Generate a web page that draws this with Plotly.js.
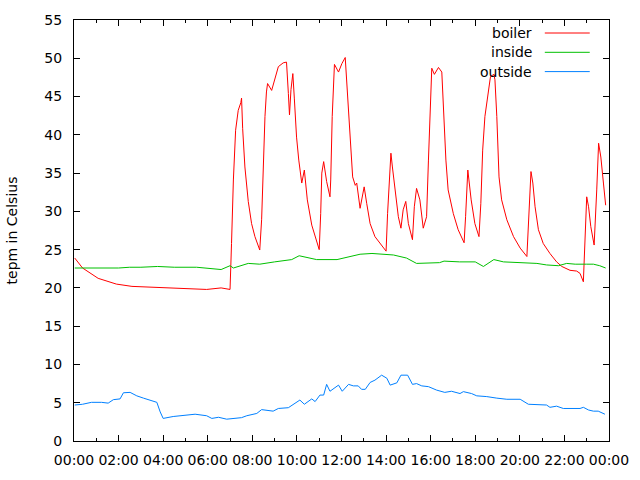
<!DOCTYPE html>
<html>
<head>
<meta charset="utf-8">
<script src="https://cdn.plot.ly/plotly-3.0.1.min.js"></script>
<style>
  body { margin: 0; background: #fff; }
  #chart { width: 640px; height: 480px; }
</style>
</head>
<body>
<div id="chart"></div>
<script>
var day = '2014-01-01';

var boilerTime = ['00:02', '00:23', '01:05', '01:54', '02:36', '04:27', '05:57', '06:36', '07:00', '07:04',
    '07:09', '07:15', '07:22', '07:29', '07:31', '07:34', '07:40', '07:49', '07:58', '08:07',
    '08:20', '08:25', '08:30', '08:34', '08:38', '08:41', '08:52', '09:01', '09:10', '09:23',
    '09:32', '09:37', '09:40', '09:44', '09:49', '09:53', '09:59', '10:05', '10:13', '10:20',
    '10:25', '10:28', '10:40', '10:53', '11:00', '11:04', '11:07', '11:12', '11:16', '11:20',
    '11:29', '11:31', '11:35', '11:41', '11:52', '12:01', '12:10', '12:14', '12:19', '12:25',
    '12:30', '12:37', '12:41', '12:50', '12:56', '13:01', '13:08', '13:17', '13:30', '13:48',
    '14:00', '14:04', '14:09', '14:13', '14:17', '14:24', '14:33', '14:40', '14:46', '14:53',
    '15:00', '15:11', '15:16', '15:22', '15:31', '15:40', '15:49', '15:54', '15:58', '16:03',
    '16:10', '16:21', '16:30', '16:34', '16:41', '16:47', '17:01', '17:14', '17:30', '17:34',
    '17:40', '17:43', '17:49', '17:59', '18:10', '18:15', '18:20', '18:26', '18:35', '18:41',
    '18:50', '18:53', '18:58', '19:04', '19:11', '19:25', '19:43', '20:01', '20:19', '20:25',
    '20:30', '20:35', '20:41', '20:50', '21:03', '21:21', '21:39', '21:53', '22:15', '22:33',
    '22:42', '22:51', '22:56', '23:00', '23:05', '23:11', '23:20', '23:22', '23:27', '23:32',
    '23:38', '23:45', '23:51'];
var boilerTemp = [23.9, 22.6, 21.25, 20.5, 20.2, 20.0, 19.8, 20.0, 19.8, 25.8,
    34.1, 40.6, 43.2, 44.2, 44.8, 40.8, 35.8, 31.3, 28.4, 26.7,
    24.95, 28.9, 38.0, 42.4, 45.6, 46.7, 45.8, 47.4, 48.9, 49.4,
    49.5, 45.4, 42.6, 45.9, 48.0, 44.8, 39.7, 36.7, 33.7, 35.4,
    33.2, 31.5, 28.2, 26.0, 25.0, 29.7, 35.0, 36.5, 35.0, 33.9,
    31.9, 34.1, 42.4, 49.2, 48.2, 49.3, 50.1, 47.2, 43.2, 38.4,
    34.5, 33.4, 33.7, 30.4, 31.9, 33.2, 31.0, 28.4, 26.7, 25.6,
    24.8, 29.7, 35.0, 37.6, 35.8, 32.8, 29.3, 27.8, 30.2, 31.3,
    28.4, 26.3, 30.6, 33.0, 31.5, 27.8, 29.3, 36.7, 41.5, 48.7,
    47.9, 48.8, 48.2, 44.1, 36.7, 32.8, 29.7, 27.6, 25.9, 29.3,
    35.4, 34.1, 31.5, 28.4, 26.7, 31.0, 38.0, 42.4, 45.4, 47.6,
    47.9, 47.2, 42.4, 34.5, 31.5, 28.9, 26.7, 25.2, 24.1, 30.6,
    35.2, 33.7, 30.6, 27.6, 25.8, 24.5, 23.4, 22.8, 22.3, 22.2,
    21.9, 20.8, 27.6, 31.9, 30.6, 28.0, 25.6, 27.3, 32.8, 38.9,
    37.1, 33.7, 30.8];

var insideTime = ['00:02', '01:00', '02:00', '02:30', '03:00', '03:45', '04:30', '05:30', '06:36', '07:00',
    '07:09', '07:49', '08:20', '09:00', '09:46', '10:06', '10:53', '11:48', '12:14', '12:50',
    '13:22', '14:20', '14:55', '15:22', '16:24', '16:36', '17:18', '18:00', '18:22', '18:50',
    '19:16', '19:52', '20:46', '21:12', '21:44', '22:06', '22:29', '23:00', '23:18', '23:35',
    '23:51'];
var insideTemp = [22.6, 22.6, 22.6, 22.7, 22.7, 22.8, 22.7, 22.7, 22.4, 22.9,
    22.6, 23.2, 23.1, 23.4, 23.7, 24.2, 23.7, 23.7, 24.0, 24.4,
    24.5, 24.3, 23.9, 23.2, 23.3, 23.5, 23.4, 23.4, 22.8, 23.7,
    23.4, 23.3, 23.2, 23.0, 22.9, 23.2, 23.1, 23.1, 23.1, 22.9,
    22.6];

var outsideTime = ['00:02', '00:23', '00:47', '01:14', '01:32', '01:46', '02:04', '02:13', '02:31', '02:49',
    '03:07', '03:25', '03:43', '03:52', '04:00', '04:27', '04:54', '05:26', '05:57', '06:11',
    '06:29', '06:51', '07:31', '07:45', '08:12', '08:25', '08:56', '09:10', '09:37', '10:08',
    '10:20', '10:40', '10:49', '11:02', '11:12', '11:20', '11:29', '11:52', '12:02', '12:19',
    '12:32', '12:45', '12:54', '13:04', '13:17', '13:30', '13:48', '14:02', '14:11', '14:29',
    '14:40', '14:58', '15:11', '15:22', '15:36', '15:54', '16:16', '16:38', '16:56', '17:19',
    '17:28', '17:50', '18:04', '18:31', '18:58', '19:25', '20:01', '20:10', '20:23', '21:12',
    '21:21', '21:39', '21:57', '22:42', '22:51', '23:05', '23:18', '23:31', '23:49'];
var outsideTemp = [4.7, 4.8, 5.05, 5.05, 4.95, 5.4, 5.5, 6.3, 6.35, 5.9,
    5.6, 5.3, 5.05, 3.8, 2.95, 3.2, 3.3, 3.5, 3.3, 2.95,
    3.1, 2.85, 3.05, 3.3, 3.6, 4.1, 3.9, 4.25, 4.35, 5.35,
    4.8, 5.5, 5.15, 6.0, 6.0, 7.4, 6.5, 7.3, 6.5, 7.4,
    7.2, 7.2, 6.75, 6.75, 7.65, 7.95, 8.6, 8.2, 7.3, 7.6,
    8.6, 8.6, 7.4, 7.5, 7.2, 7.1, 6.65, 6.35, 6.5, 6.2,
    6.45, 6.2, 5.9, 5.8, 5.6, 5.45, 5.45, 5.15, 4.8, 4.7,
    4.4, 4.55, 4.25, 4.25, 4.4, 4.05, 3.9, 3.9, 3.5];

var seriesNames = ['boiler', 'inside', 'outside'];
var seriesColors = ['#ff0000', '#00c000', '#0080ff'];

var font = 'DejaVu Sans, sans-serif';

function stamp(arr) {
    return arr.map(t => day + ' ' + t);
}

var times = [boilerTime, insideTime, outsideTime];
var temps = [boilerTemp, insideTemp, outsideTemp];

var traces = [];
for (var i = 0; i < seriesNames.length; i++) {
    traces.push({
        x: stamp(times[i]),
        y: temps[i],
        mode: 'lines',
        type: 'scatter',
        name: seriesNames[i],
        line: { color: seriesColors[i], width: 1 },
        showlegend: false
    });
}

// gnuplot-like key: text on the left, line sample on the right
var annotations = [];
var shapes = [];
for (var i = 0; i < seriesNames.length; i++) {
    var yPix = 33 + i * 19.3;
    var yPaper = 1 - (yPix - 20) / 421;
    annotations.push({
        xref: 'paper', yref: 'paper',
        x: 0.86, y: yPaper,
        xanchor: 'right', yanchor: 'middle',
        text: seriesNames[i],
        showarrow: false,
        font: { family: font, size: 14, color: '#000' }
    });
    shapes.push({
        type: 'line', xref: 'paper', yref: 'paper',
        x0: 0.88, x1: 0.964, y0: yPaper, y1: yPaper,
        line: { color: seriesColors[i], width: 1 }
    });
}

var layout = {
    width: 640,
    height: 480,
    margin: { l: 74, r: 31, t: 20, b: 39 },
    paper_bgcolor: '#fff',
    plot_bgcolor: '#fff',
    font: { family: font, size: 14, color: '#000' },
    showlegend: false,
    xaxis: {
        type: 'date',
        range: [day + ' 00:00', '2014-01-02 00:00'],
        dtick: 7200000,
        tick0: day + ' 00:00',
        tickformat: '%H:%M',
        ticks: 'inside',
        ticklen: 6,
        tickcolor: '#000',
        showline: true,
        linecolor: '#000',
        linewidth: 1,
        mirror: 'allticks',
        showgrid: false,
        zeroline: false,
        ticklabelstandoff: 6,
        minor: { dtick: 3600000, ticks: 'inside', ticklen: 3, tickcolor: '#000', showgrid: false }
    },
    yaxis: {
        range: [0, 55],
        dtick: 5,
        ticks: 'inside',
        ticklen: 6,
        tickcolor: '#000',
        showline: true,
        linecolor: '#000',
        linewidth: 1,
        mirror: 'allticks',
        showgrid: false,
        zeroline: false,
        ticklabelstandoff: 8,
        title: { text: 'tepm in Celsius', font: { family: font, size: 14 }, standoff: 23 }
    },
    annotations: annotations,
    shapes: shapes
};

Plotly.newPlot('chart', traces, layout, { staticPlot: true });
</script>
</body>
</html>
